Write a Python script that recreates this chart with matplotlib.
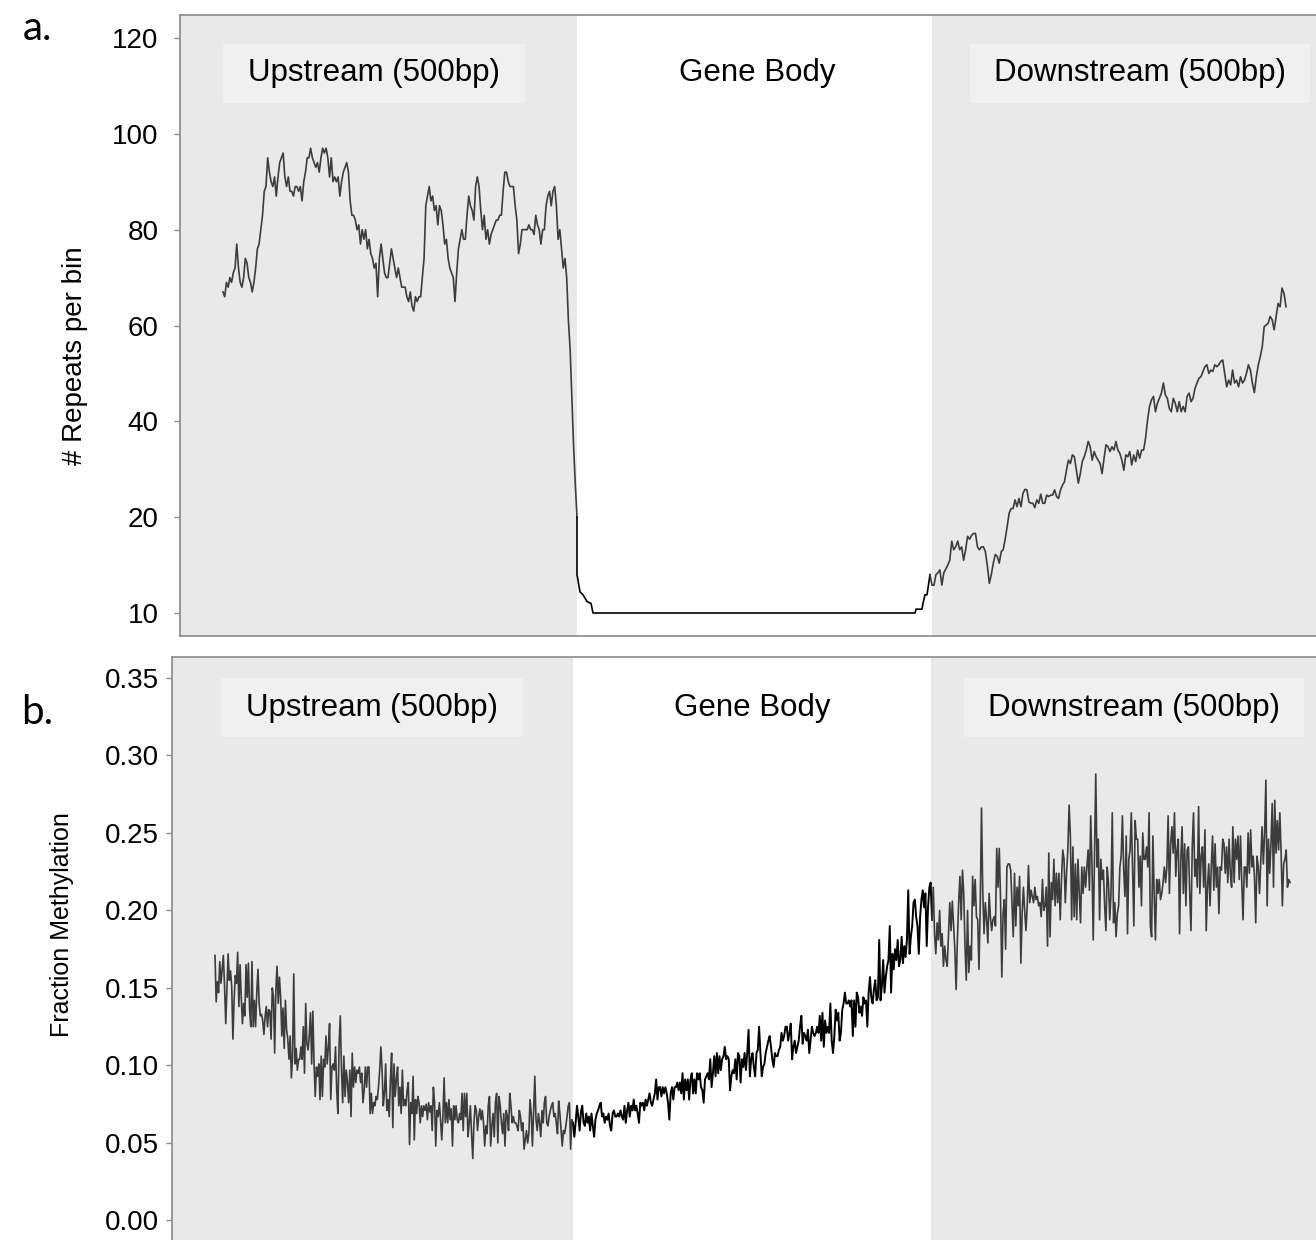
import numpy as np
import matplotlib.pyplot as plt
from matplotlib.patches import Rectangle
import matplotlib.transforms as mtransforms

plt.rcParams["font.family"] = ["Liberation Sans", "DejaVu Sans"]

region_names = ["Upstream (500bp)", "Gene Body", "Downstream (500bp)"]

# a. repeats per bin (upstream / gene body / downstream)
rep_up = [67, 66, 69, 68, 70, 69, 71, 72, 77, 72, 69, 68, 70, 74, 73, 70, 69, 67, 69, 72,
          76, 77, 80, 83, 88, 89, 95, 92, 90, 89, 91, 87, 91, 94, 95, 96, 91, 89, 91, 88,
          88, 87, 89, 89, 88, 89, 86, 90, 92, 95, 95, 97, 95, 94, 93, 94, 92, 95, 97, 96,
          97, 95, 91, 95, 90, 91, 90, 91, 87, 90, 92, 93, 94, 92, 86, 83, 83, 82, 80, 81,
          77, 80, 78, 80, 76, 78, 75, 74, 72, 73, 66, 74, 77, 74, 71, 70, 70, 73, 76, 74,
          72, 70, 72, 70, 68, 68, 68, 66, 65, 67, 64, 63, 66, 65, 66, 66, 70, 74, 85, 87,
          89, 86, 87, 84, 85, 81, 85, 84, 81, 77, 78, 74, 72, 71, 70, 65, 71, 76, 78, 80,
          78, 78, 83, 87, 85, 84, 82, 89, 91, 89, 84, 80, 83, 78, 80, 77, 79, 80, 81, 82,
          82, 83, 83, 88, 92, 92, 90, 89, 89, 89, 85, 82, 75, 77, 80, 80, 80, 80, 81, 80,
          80, 79, 83, 81, 80, 77, 80, 80, 85, 87, 88, 85, 88, 89, 85, 78, 80, 76, 72, 74,
          70, 61, 55, 45, 35, 27, 20]
rep_body_bin = [397, 400, 403, 407, 411, 413, 735, 736, 742, 743, 745, 747, 748, 750]
rep_body = [14.0, 12.2, 11.9, 11.2, 11.0, 10.0, 10.0, 10.4, 10.4, 11.0, 11.9, 11.9, 12.6, 14.0]
rep_down = [14.0, 12.9, 12.9, 14.0, 14.2, 14.5, 12.9, 14.2, 14.6, 15.0, 15.5, 17.5, 16.6, 16.9,
            17.5, 16.6, 16.9, 15.5, 16.6, 18.0, 17.7, 18.1, 18.3, 18.3, 16.9, 16.6, 16.9, 16.9,
            16.4, 14.9, 13.1, 14.0, 15.2, 16.1, 15.9, 15.2, 16.4, 16.6, 17.7, 19.0, 20.8, 21.8,
            21.8, 23.6, 22.2, 23.9, 22.2, 25.0, 25.8, 25.7, 23.2, 22.9, 22.9, 22.0, 23.6, 22.9,
            24.8, 22.9, 22.9, 24.6, 24.3, 24.6, 24.6, 25.7, 24.3, 23.9, 25.7, 26.7, 27.4, 29.8,
            31.9, 31.2, 33.0, 32.6, 29.8, 27.1, 29.1, 31.6, 32.6, 34.0, 35.8, 34.7, 31.9, 33.7,
            32.6, 31.9, 31.2, 29.1, 32.3, 35.1, 34.7, 33.7, 34.7, 34.0, 35.8, 34.0, 33.3, 31.9,
            29.8, 33.0, 32.6, 33.7, 30.9, 33.0, 31.6, 34.0, 32.3, 34.0, 34.0, 36.5, 40.3, 43.1,
            44.5, 45.2, 42.0, 43.8, 44.8, 45.9, 48.0, 45.5, 44.8, 42.7, 42.0, 44.8, 43.8, 42.0,
            44.1, 42.0, 43.1, 42.0, 45.2, 45.9, 44.1, 44.8, 46.9, 48.0, 49.0, 49.3, 50.4, 51.4,
            51.8, 50.0, 50.7, 50.4, 51.8, 51.4, 51.8, 52.5, 52.8, 50.0, 47.2, 48.6, 47.6, 50.7,
            48.0, 48.6, 47.2, 49.3, 48.0, 48.6, 50.0, 51.8, 50.7, 48.0, 46.0, 49.3, 51.8, 53.5,
            55.6, 59.8, 60.1, 60.5, 61.9, 61.2, 59.1, 61.9, 64.6, 63.9, 67.8, 66.7, 63.9]
rep_ticks = [10, 20, 40, 60, 80, 100, 120]

# b. fraction methylation
meth_up = [.171, .141, .154, .147, .167, .153, .162, .171, .151, .127, .149, .172, .155, .161, .151,
           .117, .142, .158, .153, .173, .138, .165, .144, .127, .140, .132, .165, .144, .166, .136,
           .125, .167, .125, .142, .125, .147, .162, .140, .132, .133, .129, .120, .132, .138, .125,
           .136, .135, .117, .150, .144, .108, .149, .164, .140, .157, .144, .119, .137, .111, .142,
           .123, .117, .104, .119, .092, .106, .159, .101, .111, .097, .104, .104, .112, .104, .125,
           .095, .140, .114, .110, .119, .134, .101, .135, .101, .080, .099, .093, .101, .078, .106,
           .080, .104, .099, .119, .101, .112, .127, .078, .099, .101, .097, .112, .084, .069, .114,
           .132, .097, .076, .106, .080, .097, .089, .076, .097, .067, .108, .086, .099, .089, .097,
           .095, .099, .089, .095, .076, .084, .099, .086, .099, .099, .069, .082, .069, .076, .074,
           .080, .078, .086, .097, .112, .097, .074, .082, .101, .071, .078, .067, .091, .108, .060,
           .101, .080, .091, .099, .074, .086, .069, .097, .074, .078, .074, .084, .089, .049, .076,
           .069, .093, .052, .078, .069, .080, .076, .063, .074, .067, .074, .071, .075, .065, .076,
           .070, .074, .058, .086, .076, .048, .071, .067, .076, .065, .052, .067, .092, .063, .076,
           .063, .078, .065, .072, .048, .074, .065, .074, .065, .063, .069, .065, .082, .058, .082,
           .067, .082, .054, .063, .074, .056, .040, .063, .074, .071, .058, .067, .072, .065, .071,
           .063, .048, .061, .056, .074, .080, .048, .061, .069, .054, .076, .082, .050, .080, .074,
           .063, .056, .069, .048, .071, .067, .058, .082, .074, .063, .067, .063, .063, .061, .058,
           .071, .067, .058, .063, .046, .052, .058, .050, .056, .078, .069, .048, .071, .093, .065,
           .058, .069, .063, .054, .071, .063, .076, .080, .063, .061, .067, .071, .074, .076, .067,
           .069, .063, .056, .077, .069, .058, .048, .058, .056, .061, .067, .074, .076, .046, .065,
           .063]
meth_body = [.054, .063, .074, .067, .058, .070, .074, .063, .061, .069, .063, .067, .058, .069, .061,
             .054, .065, .069, .071, .074, .076, .067, .069, .063, .067, .065, .069, .061, .058, .069,
             .071, .067, .067, .069, .067, .071, .067, .065, .074, .063, .071, .076, .067, .074, .071,
             .078, .071, .074, .069, .063, .076, .074, .076, .071, .078, .074, .078, .082, .076, .074,
             .078, .082, .091, .078, .086, .086, .080, .086, .082, .086, .082, .076, .065, .082, .086,
             .078, .086, .086, .089, .084, .089, .082, .095, .078, .091, .084, .091, .078, .091, .095,
             .082, .091, .082, .095, .091, .095, .086, .084, .076, .091, .093, .095, .091, .104, .086,
             .095, .106, .093, .108, .095, .106, .097, .104, .106, .112, .104, .106, .104, .084, .093,
             .097, .095, .104, .091, .108, .106, .089, .104, .099, .108, .097, .108, .123, .093, .104,
             .108, .099, .093, .108, .110, .125, .108, .093, .099, .101, .108, .112, .116, .119, .112,
             .104, .099, .108, .106, .106, .110, .112, .121, .116, .119, .125, .125, .116, .121, .127,
             .104, .112, .116, .108, .112, .116, .125, .132, .114, .121, .119, .116, .123, .108, .116,
             .125, .121, .119, .121, .125, .121, .132, .116, .134, .112, .129, .121, .125, .121, .140,
             .116, .108, .119, .136, .129, .134, .116, .121, .136, .140, .147, .140, .140, .142, .138,
             .142, .119, .142, .125, .147, .144, .134, .138, .132, .144, .140, .142, .125, .147, .157,
             .144, .140, .149, .155, .142, .144, .181, .142, .151, .168, .147, .157, .164, .168, .190,
             .147, .172, .162, .175, .168, .181, .164, .168, .183, .166, .177, .170, .181, .213, .172,
             .183, .190, .205, .207, .196, .190, .172, .196, .207, .213, .202, .211, .177, .202, .215,
             .218, .194]
meth_down = [.215, .185, .172, .192, .181, .200, .177, .185, .164, .177, .168, .164, .185, .205, .187,
             .206, .190, .175, .149, .181, .205, .222, .194, .226, .211, .177, .155, .200, .160, .177,
             .168, .222, .203, .220, .196, .194, .162, .203, .266, .211, .185, .205, .194, .179, .211,
             .196, .187, .194, .196, .190, .240, .215, .240, .207, .157, .198, .207, .175, .228, .230,
             .230, .226, .205, .183, .224, .190, .215, .203, .222, .166, .198, .215, .200, .187, .203,
             .229, .205, .213, .209, .205, .215, .207, .209, .203, .205, .196, .220, .200, .203, .215,
             .177, .237, .183, .218, .207, .233, .203, .224, .205, .224, .194, .220, .239, .233, .205,
             .224, .239, .268, .248, .194, .241, .196, .230, .194, .233, .211, .192, .228, .211, .228,
             .215, .228, .239, .213, .261, .230, .181, .233, .288, .228, .246, .194, .233, .220, .226,
             .203, .187, .228, .218, .194, .211, .263, .192, .205, .183, .198, .203, .228, .235, .261,
             .226, .209, .248, .185, .233, .239, .263, .228, .190, .258, .246, .246, .215, .235, .203,
             .250, .233, .233, .241, .228, .263, .190, .183, .248, .211, .181, .220, .211, .220, .207,
             .211, .218, .228, .218, .228, .261, .211, .243, .254, .237, .263, .222, .239, .246, .185,
             .233, .254, .211, .243, .203, .239, .241, .211, .187, .241, .263, .222, .233, .215, .267,
             .211, .235, .241, .215, .252, .187, .215, .230, .203, .228, .248, .213, .243, .215, .228,
             .198, .228, .226, .246, .243, .224, .241, .218, .246, .224, .215, .254, .218, .246, .233,
             .248, .220, .248, .218, .194, .228, .228, .215, .250, .224, .252, .228, .235, .222, .192,
             .235, .228, .211, .233, .254, .230, .250, .284, .203, .246, .224, .243, .269, .215, .271,
             .237, .258, .239, .263, .237, .203, .230, .233, .239, .215, .220, .218]
meth_ticks = [0.00, 0.05, 0.10, 0.15, 0.20, 0.25, 0.30, 0.35]


def rep_fwd(v):
    v = np.asarray(v, dtype=float)
    return np.where(v >= 20, v, 2 * v - 20)


def rep_inv(t):
    t = np.asarray(t, dtype=float)
    return np.where(t >= 20, t, (t + 20) / 2)


SHADE = "#e9e9e9"
BOX = "#f0f0f0"
LINE = "#3c3c3c"
SPINE = "#8a8a8a"


def style_panel(ax, spans, label_x, box_hw, box_y, text_y, pad):
    ax.axvspan(spans[0], spans[1], color=SHADE, lw=0, zorder=0)
    ax.axvspan(spans[2], spans[3], color=SHADE, lw=0, zorder=0)
    trans = mtransforms.blended_transform_factory(ax.transData, ax.transAxes)
    for i, name in enumerate(region_names):
        if i != 1:
            ax.add_patch(Rectangle((label_x[i] - box_hw[i], box_y[0]), 2 * box_hw[i],
                                   box_y[1] - box_y[0], transform=trans,
                                   fc=BOX, ec="none", zorder=1))
        ax.text(label_x[i], text_y, name, transform=trans, ha="center", va="center",
                fontsize=22.5, zorder=3)
    ax.set_xlim(spans[0], spans[3])
    ax.set_xticks([])
    for s in ax.spines.values():
        s.set_color(SPINE)
        s.set_linewidth(1.2)
    ax.tick_params(axis="y", direction="out", length=4.5, width=1, color=SPINE,
                   labelsize=20, pad=pad)


fig = plt.figure(figsize=(13.16, 12.4), dpi=100)

# ---- panel a
ax1 = fig.add_axes([180 / 1316, 1 - 636 / 1240, 1150 / 1316, 621 / 1240])
a_spans = [0, 397, 752, 1150]
x_up = np.linspace(43, 397, len(rep_up))
ax1.plot(x_up, rep_up, color=LINE, lw=1.2, zorder=2)
ax1.plot(np.r_[x_up[-1], rep_body_bin], np.r_[rep_up[-1], rep_body], color="black", lw=1.2, zorder=2)
ax1.plot(np.linspace(750, 1106, len(rep_down)), rep_down, color=LINE, lw=1.2, zorder=2)
ax1.set_yscale("function", functions=(rep_fwd, rep_inv))
ax1.set_ylim(7.6, 124.8)
ax1.set_yticks(rep_ticks)
ax1.set_yticklabels([str(t) for t in rep_ticks])
ax1.minorticks_off()
style_panel(ax1, a_spans, [194, 577, 960], [151, 0, 170], (0.858, 0.953), 0.906, 11)

# ---- panel b
ax2 = fig.add_axes([172 / 1316, 0, 1160 / 1316, 583 / 1240])
b_spans = [0, 401, 759, 1160]
xb_up = np.linspace(43, 401, len(meth_up))
xb_body = np.linspace(401, 760, len(meth_body) + 1)
xb_down = np.linspace(760, 1118, len(meth_down) + 1)
ax2.plot(xb_up, meth_up, color=LINE, lw=1.2, zorder=2)
ax2.plot(xb_body, np.r_[meth_up[-1], meth_body], color="black", lw=1.4, zorder=2)
ax2.plot(xb_down, np.r_[meth_body[-1], meth_down], color=LINE, lw=1.2, zorder=2)
ax2.set_ylim(-0.0126, 0.3635)
ax2.set_yticks(meth_ticks)
ax2.set_yticklabels(["%.2f" % t for t in meth_ticks])
style_panel(ax2, b_spans, [200, 580, 962], [151, 0, 170], (0.862, 0.964), 0.913, 5)
ax2.spines["bottom"].set_visible(False)

fig.text(75 / 1316, 1 - 356 / 1240, "# Repeats per bin", rotation=90,
         ha="center", va="center", fontsize=20)
fig.text(62 / 1316, 1 - 925 / 1240, "Fraction Methylation", rotation=90,
         ha="center", va="center", fontsize=18)
fig.text(37 / 1316, 1 - 28 / 1240, "a.", family=["Lato", "DejaVu Sans"],
         ha="center", va="center", fontsize=29)
fig.text(37 / 1316, 1 - 712 / 1240, "b.", family=["Lato", "DejaVu Sans"],
         ha="center", va="center", fontsize=29)

fig.savefig("out.png", dpi=100)
